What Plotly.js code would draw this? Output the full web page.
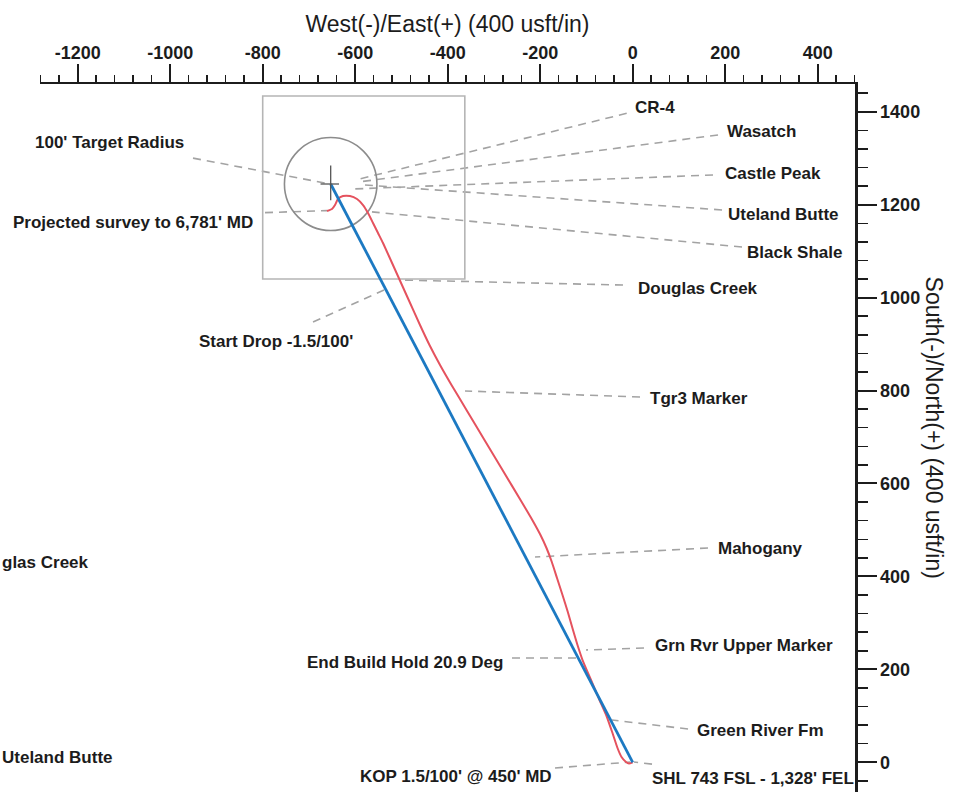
<!DOCTYPE html>
<html>
<head>
<meta charset="utf-8">
<script src="https://cdn.plot.ly/plotly-3.0.1.min.js"></script>
<style>
  html, body { margin: 0; padding: 0; background: #ffffff; }
  #chart { width: 955px; height: 792px; }
</style>
</head>
<body>
<div id="chart"></div>
<script>
// ---------------- data ----------------
// Plan (blue) : surface location to target centre
const planEW = [0, -653];
const planNS = [0, 1244.5];

const surveyEW = [0, -8.0, -14.5, -24.2, -32.9, -43.7, -56.6, -71.8, -90.2, -108.5, -119.4, -129.1,
  -140.3, -151.8, -163.7, -174.9, -186.4, -199.4, -217.1, -242.6, -281.5, -320.5, -359.4, -391.8,
  -416.6, -439.4, -459.9, -484.3, -513.5, -539.9, -550.7, -561.5, -572.3, -583.1, -596.1, -611.2,
  -626.4, -637.2, -643.7, -650.2, -661.0];
const surveyNS = [0, -2.6, 0.6, 11.4, 30.8, 63.1, 99.6, 134.1, 177.1, 220.1, 252.4, 284.7,
  323.5, 360.1, 396.6, 431.1, 461.2, 489.2, 521.5, 564.5, 629.0, 693.6, 758.2, 812.0,
  855.0, 898.0, 941.0, 994.8, 1059.4, 1117.5, 1139.0, 1160.5, 1182.0, 1199.2, 1212.2, 1218.6,
  1218.6, 1212.2, 1199.2, 1190.6, 1186.3];

// Target
const targetEW = [-653];
const targetNS = [1244.5];
const targetRadius = [100];

// Drilling window box
const boxEW = [-800, -363];
const boxNS = [1040, 1434];

// Axis ticks
const xTickVals = [-1200, -1000, -800, -600, -400, -200, 0, 200, 400];
const xTickText = ['-1200', '-1000', '-800', '-600', '-400', '-200', '0', '200', '400'];
const yTickVals = [0, 200, 400, 600, 800, 1000, 1200, 1400];
const yTickText = ['0', '200', '400', '600', '800', '1000', '1200', '1400'];

// Labels on the right of their anchor (left-aligned text)
const rightLabels = ['CR-4', 'Wasatch', 'Castle Peak', 'Uteland Butte', 'Black Shale', 'Douglas Creek',
  'Tgr3 Marker', 'Mahogany', 'Grn Rvr Upper Marker', 'Green River Fm', "SHL 743 FSL - 1,328' FEL"];
const rightLabelEW = [0.6, 199.6, 195.2, 201.7, 242.8, 7.1, 33.1, 180.0, 43.9, 134.7, 37.4];
const rightLabelNS = [1409.7, 1358.5, 1268.0, 1179.9, 1098.1, 1020.0, 783.5, 460.7, 252.0, 69.5, -35.5];

// Labels ending at their anchor (right-aligned text)
const leftLabels = ["100' Target Radius", "Projected survey to 6,781' MD", "Start Drop -1.5/100'",
  'End Build Hold 20.9 Deg', "KOP 1.5/100' @ 450' MD", 'Uteland Butte'];
const leftLabelEW = [-965.8, -816.1, -600.4, -276.1, -171.2, -1119.1];
const leftLabelNS = [1334.7, 1162.2, 904.9, 215.8, -31.2, 11.4];

// Label of the neighbouring section, cut by the picture's left edge
const edgeLabel = 'glas Creek';
const edgeLabelNS = 431.0;

// Dashed leader lines: start -> end
const leaderEW0 = [-13.0, 184.4, 173.6, 193.1, 236.3, -21.0, 15.8, 162.8, 24.4, 119.6, 41.7,
  -950.7, -795.0, -691.2, -261.0, -168.0];
const leaderNS0 = [1396.6, 1350.1, 1264.0, 1188.7, 1108.9, 1027.1, 786.1, 461.2, 246.1, 71.7, -3.9,
  1300.2, 1182.9, 947.5, 224.4, -12.3];
const leaderEW1 = [-600.4, -594.0, -606.9, -578.8, -563.7, -503.1, -362.6, -211.2, -101.0, -44.8, 2.8,
  -654.5, -661.0, -537.7, -118.3, -5.8];
const leaderNS1 = [1253.0, 1248.7, 1233.7, 1242.3, 1184.5, 1037.9, 799.1, 441.8, 241.7, 91.0, 0.6,
  1244.5, 1187.2, 1016.4, 224.4, 0.6];

// ---------------- drawing ----------------
const FONT = 'Liberation Sans, Arial, Helvetica, sans-serif';
const INK = '#1c1c1c';

const traces = [
  {
    x: surveyEW, y: surveyNS, type: 'scatter', mode: 'lines',
    line: { color: '#e5525e', width: 2, shape: 'spline', smoothing: 0.5 },
    hoverinfo: 'skip', showlegend: false
  },
  {
    x: planEW, y: planNS, type: 'scatter', mode: 'lines',
    line: { color: '#1c79c2', width: 2.8 },
    hoverinfo: 'skip', showlegend: false
  }
];

const shapes = [];
for (let i = 0; i < leaderEW0.length; i++) {
  shapes.push({
    type: 'line', xref: 'x', yref: 'y', layer: 'below',
    x0: leaderEW0[i], y0: leaderNS0[i], x1: leaderEW1[i], y1: leaderNS1[i],
    line: { color: '#a3a3a3', width: 1.6, dash: '8px,6px' }
  });
}
// box
shapes.push({
  type: 'rect', xref: 'x', yref: 'y', layer: 'below',
  x0: boxEW[0], x1: boxEW[1], y0: boxNS[0], y1: boxNS[1],
  line: { color: '#b5b5b5', width: 1.6 }
});
// target circle
shapes.push({
  type: 'circle', xref: 'x', yref: 'y', layer: 'below',
  x0: targetEW[0] - targetRadius[0], x1: targetEW[0] + targetRadius[0],
  y0: targetNS[0] - targetRadius[0], y1: targetNS[0] + targetRadius[0],
  line: { color: '#8c8c8c', width: 1.6 }
});
// target cross
shapes.push({
  type: 'line', xref: 'x', yref: 'y',
  x0: targetEW[0] - 22, x1: targetEW[0] + 18, y0: targetNS[0], y1: targetNS[0],
  line: { color: '#555555', width: 1.3 }
});
shapes.push({
  type: 'line', xref: 'x', yref: 'y',
  x0: targetEW[0], x1: targetEW[0], y0: targetNS[0] - 35, y1: targetNS[0] + 40,
  line: { color: '#555555', width: 1.3 }
});

const labelFont = { family: FONT, size: 17, color: INK, weight: 'bold' };
const annotations = [];
for (let i = 0; i < rightLabels.length; i++) {
  annotations.push({
    x: rightLabelEW[i], y: rightLabelNS[i], xref: 'x', yref: 'y',
    text: rightLabels[i], showarrow: false, xanchor: 'left', yanchor: 'middle',
    font: labelFont
  });
}
for (let i = 0; i < leftLabels.length; i++) {
  annotations.push({
    x: leftLabelEW[i], y: leftLabelNS[i], xref: 'x', yref: 'y',
    text: leftLabels[i], showarrow: false, xanchor: 'right', yanchor: 'middle',
    font: labelFont
  });
}
annotations.push({
  x: -0.0491, y: edgeLabelNS, xref: 'paper', yref: 'y',
  text: edgeLabel, showarrow: false, xanchor: 'left', yanchor: 'middle',
  font: labelFont
});
// right-side axis title, reading top to bottom
annotations.push({
  x: 1.097, y: 0.5147, xref: 'paper', yref: 'paper',
  text: 'South(-)/North(+) (400 usft/in)', showarrow: false, textangle: 90,
  xanchor: 'center', yanchor: 'middle',
  font: { family: FONT, size: 23, color: INK }
});

const layout = {
  width: 955, height: 792,
  margin: { l: 40, r: 100, t: 84, b: 0, pad: 0 },
  paper_bgcolor: '#ffffff', plot_bgcolor: '#ffffff',
  showlegend: false,
  xaxis: {
    side: 'top', range: [-1281.5, 480.6], autorange: false,
    tickmode: 'array', tickvals: xTickVals, ticktext: xTickText,
    ticks: 'outside', ticklen: 18, tickwidth: 2, tickcolor: INK,
    ticklabelstandoff: -3,
    showline: true, linewidth: 2.5, linecolor: INK,
    showgrid: false, zeroline: false,
    minor: { dtick: 40, tick0: 0, ticks: 'outside', ticklen: 7, tickwidth: 1.5, tickcolor: INK, showgrid: false },
    tickfont: { family: FONT, size: 18, color: INK, weight: 'bold' },
    title: { text: 'West(-)/East(+) (400 usft/in)', font: { family: FONT, size: 23, color: INK }, standoff: 4 },
    automargin: false, fixedrange: true
  },
  yaxis: {
    side: 'right', range: [-63.9, 1459.7], autorange: false,
    tickmode: 'array', tickvals: yTickVals, ticktext: yTickText,
    ticks: 'outside', ticklen: 19, tickwidth: 2, tickcolor: INK,
    showline: true, linewidth: 2.5, linecolor: INK,
    showgrid: false, zeroline: false,
    minor: { dtick: 40, tick0: 0, ticks: 'outside', ticklen: 10, tickwidth: 1.5, tickcolor: INK, showgrid: false },
    tickfont: { family: FONT, size: 18, color: INK, weight: 'bold' },
    automargin: false, fixedrange: true
  },
  shapes: shapes,
  annotations: annotations
};

Plotly.newPlot('chart', traces, layout, { staticPlot: true, displayModeBar: false });
</script>
</body>
</html>
